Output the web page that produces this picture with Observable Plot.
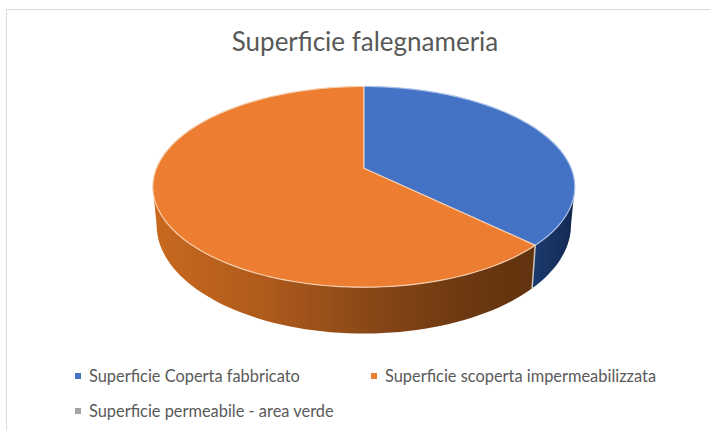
<!DOCTYPE html>
<html><head><meta charset="utf-8">
<script src="https://cdn.jsdelivr.net/npm/d3@7"></script>
<script src="https://cdn.jsdelivr.net/npm/@observablehq/plot@0.6"></script>
<style>
html,body{margin:0;padding:0;background:#fff;}
#page{position:relative;width:710px;height:430px;overflow:hidden;font-family:Lato,sans-serif;color:#595959;}
#frame{position:absolute;left:6px;top:9px;right:-2px;bottom:-2px;border:1px solid #d9d9d9;}
#title{position:absolute;left:0;width:730px;top:25px;text-align:center;font-size:26px;line-height:32px;}
#plot{position:absolute;left:0;top:70px;}
#plot svg{filter:blur(0.5px);}
.leg{position:absolute;font-size:16.4px;line-height:18px;white-space:nowrap;}
.sw{position:absolute;width:6px;height:6px;}
</style></head>
<body><div id="page"><div id="frame"></div><div id="title"></div><div id="plot"></div></div>
<script>
const chartTitle = "Superficie falegnameria";
const categories = ["Superficie Coperta fabbricato", "Superficie scoperta impermeabilizzata", "Superficie permeabile - area verde"];
const values = [37.2, 62.8, 0];
const colors = ["#4472c4", "#ed7d31", "#a5a5a5"];
const edgeColors = ["#a9c0e8", "#f6cfae", "#dddddd"];

// perspective view of the disc
const k = 0.1858, depthX = 0.982, depthY = 1.08, drop = 0.38;
const project = (deg, r = 1) => {
  const a = deg * Math.PI / 180, u = r * Math.sin(a), v = r * Math.cos(a), w = 1 + k * v;
  return {x: u / w, y: v / w};
};
const lower = p => ({x: p.x * depthX, y: p.y * depthY - drop});
const arc = (a0, a1) => {
  const n = Math.max(1, Math.ceil(Math.abs(a1 - a0) / 2));
  return d3.range(n + 1).map(i => project(a0 + (a1 - a0) * i / n));
};

const total = d3.sum(values);
let acc = 0;
const slices = values.map((v, i) => {
  const a0 = acc / total * 360; acc += v; const a1 = acc / total * 360;
  return {i, a0, a1};
}).filter(s => s.a1 > s.a0);

const limit = Math.acos(-k) * 180 / Math.PI;
const wallFills = ["url(#wall0)", "url(#wall1)"];
const marks = [];

const defs = () => {
  const ns = "http://www.w3.org/2000/svg";
  const d = document.createElementNS(ns, "defs");
  const add = (id, stops) => {
    const g = document.createElementNS(ns, "linearGradient");
    g.setAttribute("id", id);
    stops.forEach(([o, c]) => {
      const s = document.createElementNS(ns, "stop");
      s.setAttribute("offset", o); s.setAttribute("stop-color", c);
      g.appendChild(s);
    });
    d.appendChild(g);
  };
  add("wall0", [[0, "#1c3a70"], [1, "#14294f"]]);
  add("wall1", [[0, "#c9691f"], [0.3, "#ad5a1c"], [0.6, "#854516"], [0.85, "#6a3711"], [1, "#62330f"]]);
  return d;
};
marks.push(defs);

for (const s of slices) {
  const b0 = Math.max(s.a0, limit), b1 = Math.min(s.a1, 360 - limit);
  if (b1 > b0) {
    const top = arc(b0, b1);
    const wall = [...top, ...top.slice().reverse().map(lower)];
    marks.push(Plot.line(wall, {x: "x", y: "y", fill: wallFills[s.i], stroke: "none"}));
  }
}
// seam between the two walls
const seamTop = project(slices[0].a1);
marks.push(Plot.line([seamTop, lower(seamTop)], {x: "x", y: "y", stroke: "#c9c4bd", strokeWidth: 1.5}));

for (const s of slices) {
  const face = [{x: 0, y: 0}, ...arc(s.a0, s.a1), {x: 0, y: 0}];
  marks.push(Plot.line(face, {x: "x", y: "y", fill: colors[s.i], stroke: edgeColors[s.i], strokeWidth: 1.2}));
}

const chart = Plot.plot({
  width: 710, height: 280, margin: 0,
  x: {domain: [-1, 1], range: [156, 570.6], axis: null},
  y: {domain: [-1, 1], range: [194.6, 0.8], axis: null},
  marks
});
document.getElementById("plot").appendChild(chart);
document.getElementById("title").textContent = chartTitle;

// legend
const page = document.getElementById("page");
const slots = [[75, 376], [371, 376], [75, 411]];
categories.forEach((c, i) => {
  const sw = document.createElement("div");
  sw.className = "sw";
  sw.style.cssText = `left:${slots[i][0]}px;top:${slots[i][1] - 3}px;background:${colors[i]}`;
  const t = document.createElement("div");
  t.className = "leg";
  t.textContent = c;
  t.style.cssText = `left:${slots[i][0] + 14}px;top:${slots[i][1] - 9}px`;
  page.append(sw, t);
});
</script></body></html>
